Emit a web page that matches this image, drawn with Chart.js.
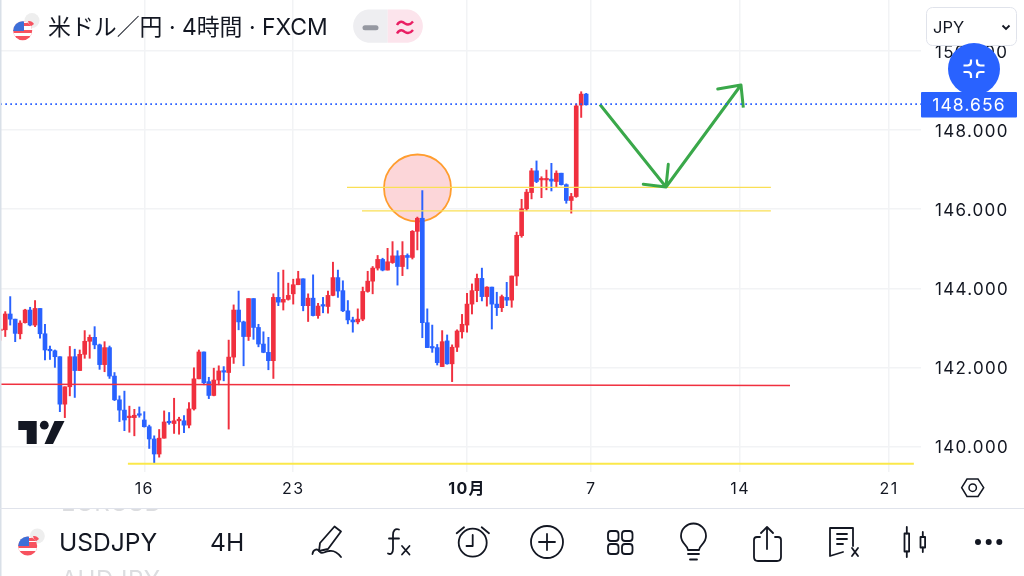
<!DOCTYPE html>
<html>
<head>
<meta charset="utf-8">
<title>USDJPY</title>
<script src="https://cdn.jsdelivr.net/npm/chart.js@4"></script>
<style>
  html, body { margin: 0; padding: 0; background: #fff; }
  #page { position: relative; width: 1024px; height: 576px; overflow: hidden; font-family: Inter, "Noto Sans CJK JP", sans-serif; color: #131722; }
  canvas { position: absolute; left: 0; top: 0; }
  svg { position: absolute; left: 0; top: 0; }
  .txt { position: absolute; white-space: nowrap; }
  #ghost { position: absolute; left: 0; top: 509px; width: 1024px; height: 67px; overflow: hidden; color: #dcdde0; font-size: 24px; line-height: 30px; letter-spacing: .5px; }
</style>
</head>
<body>
<div id="page">
  <canvas id="chart" width="1024" height="576"></canvas>

  <div id="ghost">
    <div class="txt" style="left:61px;top:-21px">EURUSD</div>
    <div class="txt" style="left:61px;top:56px">AUDJPY</div>
  </div>

  <svg width="1024" height="576" viewBox="0 0 1024 576" fill="none">
    <defs>
      <clipPath id="f1"><circle cx="22.7" cy="30.7" r="9.5"/></clipPath>
      <clipPath id="f2"><circle cx="27.7" cy="546" r="9.5"/></clipPath>
    </defs>
    <rect x="0" y="0" width="1.5" height="576" fill="#d9e0e8"/>
    <rect x="0" y="508" width="1024" height="1" fill="#e0e3eb"/>

    <!-- tv logo -->
    <path d="M18.3 421H36.7V444H26.7V430H18.3Z" fill="#131722"/>
    <circle cx="44.3" cy="425.2" r="4.4" fill="#131722"/>
    <path d="M54.5 421H64.5L53 444H44.5Z" fill="#131722"/>

    <!-- header flag -->
    <circle cx="32" cy="20.5" r="7.5" fill="#eeeeee"/>
    <path d="M28 21A6 6 0 0 1 34 24L30 27Z" fill="#f7525f"/>
    <g clip-path="url(#f1)">
      <rect x="13" y="21" width="20" height="20" fill="#f7525f"/>
      <rect x="13" y="27" width="20" height="3" fill="#fff"/>
      <rect x="13" y="33" width="20" height="3" fill="#fff"/>
      <rect x="13" y="21" width="20" height="6" fill="#fff"/>
      <rect x="24" y="23" width="10" height="3" fill="#f7525f"/>
      <rect x="13" y="21" width="11" height="10" fill="#3d6fd8"/>
    </g>

    <!-- pill -->
    <path d="M387.7 9.5H368A16.7 16.7 0 0 0 368 42.7H387.7Z" fill="#eeeef1"/>
    <path d="M387.7 9.5H408A16.7 16.7 0 0 1 408 42.7H387.7Z" fill="#fce4ec"/>
    <path d="M365 27.7H376" stroke="#9598a1" stroke-width="5" stroke-linecap="round"/>
    <path d="M397 25C400 20 403 22 405 23.5C408 25.5 411 24 413 21.5M397 33.5C400 28.5 403 30.5 405 32C408 34 411 32.5 413 30" stroke="#e91e63" stroke-width="2.4"/>

    <!-- currency box and blue button -->
    <rect x="926.5" y="7.5" width="90" height="38" rx="6" fill="#fff" stroke="#e0e3eb"/>
    <path d="M1002.5 25.5L1006 29L1009.5 25.5" stroke="#131722" stroke-width="1.8"/>
    <circle cx="974" cy="69" r="26" fill="#2962ff"/>
    <g stroke="#fff" stroke-width="2.2">
      <path d="M963.5 65.5H967.5Q971 65.5 971 62V59.5"/>
      <path d="M984.5 65.5H980.5Q977 65.5 977 62V59.5"/>
      <path d="M963.5 72H967.5Q971 72 971 75.5V78"/>
      <path d="M984.5 72H980.5Q977 72 977 75.5V78"/>
    </g>
    <rect x="921" y="92" width="96" height="25.5" rx="1" fill="#2962ff"/>

    <!-- hexagon settings -->
    <path d="M961.7 487.7L967 479H978L983.7 487.7L978 496.5H967Z" stroke="#131722" stroke-width="1.5"/>
    <circle cx="972.7" cy="487.7" r="3.7" stroke="#131722" stroke-width="1.5"/>

    <!-- toolbar flag -->
    <circle cx="37.3" cy="536" r="7.5" fill="#eeeeee"/>
    <path d="M33 536A6 6 0 0 1 39 539L35 542Z" fill="#f7525f"/>
    <g clip-path="url(#f2)">
      <rect x="18" y="536" width="20" height="20" fill="#f7525f"/>
      <rect x="18" y="536" width="20" height="6" fill="#fff"/>
      <rect x="29" y="538" width="10" height="3" fill="#f7525f"/>
      <rect x="18" y="548" width="20" height="3" fill="#fff"/>
      <rect x="18" y="536" width="11" height="10" fill="#3d6fd8"/>
    </g>

    <!-- toolbar icons -->
    <g stroke="#131722" stroke-width="1.8" stroke-linecap="round" stroke-linejoin="round">
      <path d="M334.5 526.5L341 531.5L328 549L319 551L320 543Z"/>
      <path d="M312.5 554C313 549 318 548 320 552C322 555 325 551 329 551C334 550 338 553 341 557"/>
      <path d="M399 529.5C395 528 393 531 393 535V549C393 553 391 555 388 553.5"/>
      <path d="M389 538.5H399"/>
      <path d="M402 546L409.5 554.5M409.5 546L402 554.5"/>
      <circle cx="472.7" cy="542.7" r="14"/>
      <path d="M472.7 535V546H466.5"/>
      <path d="M456.7 533.3L464 527.3M481.7 527.3L489 533.3"/>
      <circle cx="547" cy="542" r="16"/>
      <path d="M539 542H555M547 534V550"/>
      <rect x="608" y="531" width="10.5" height="10" rx="3"/>
      <rect x="622" y="531" width="10.5" height="10" rx="3"/>
      <rect x="608" y="544" width="10.5" height="10" rx="3"/>
      <rect x="622" y="544" width="10.5" height="10" rx="3"/>
      <path d="M688 550C688 545 681 544 681 536A12.5 12.5 0 0 1 706 536C706 544 699 545 699 550Z"/>
      <path d="M688 554H699M690 559.5H697"/>
      <path d="M760 537H757Q754 537 754 540V557Q754 561 758 561H777Q781 561 781 557V540Q781 537 778 537H775"/>
      <path d="M767 549V527M761 533L767 527L773 533"/>
      <path d="M853 546V528H830V556L843 552"/>
      <path d="M837 534H847M837 539H847M837 544H843"/>
      <path d="M852 548L858 556M858 548L852 556"/>
      <rect x="904.5" y="533.5" width="4.6" height="18"/>
      <path d="M906.8 527V533.5M906.8 551.5V557"/>
      <rect x="920.5" y="537" width="4.6" height="10.5"/>
      <path d="M922.8 532V537M922.8 547.5V552"/>
    </g>
    <circle cx="978" cy="542" r="3" fill="#131722"/>
    <circle cx="988.7" cy="542" r="3" fill="#131722"/>
    <circle cx="999.3" cy="542" r="3" fill="#131722"/>
  </svg>

  <div class="txt" style="left:48px;top:12px;font-size:22.9px;line-height:30px">米ドル／円 · 4時間 · FXCM</div>
  <div class="txt" style="left:933px;top:15px;font-size:16.5px;line-height:24px">JPY</div>
  <div class="txt" id="priceTag" style="left:921px;width:96px;top:92px;text-align:center;font-size:17.5px;line-height:25px;color:#fff;letter-spacing:1.1px"></div>
  <div class="txt" style="left:59px;top:527px;font-size:24.6px;line-height:30px">USDJPY</div>
  <div class="txt" style="left:210px;top:527px;font-size:24.6px;line-height:30px">4H</div>
</div>

<script>
// candles (red = up, blue = down)
const openValues = [142.93,142.95,143.35,143.22,142.85,143.13,143.45,143.07,143.49,142.85,142.44,142.42,142.27,141.07,141.51,142.27,141.92,142.33,142.66,142.76,142.57,142.07,142.50,141.78,141.18,140.92,140.73,140.73,140.81,140.67,140.50,140.19,139.81,140.21,140.63,140.58,140.65,140.65,140.54,140.95,141.71,142.39,141.64,141.29,141.68,141.91,141.87,142.26,143.45,143.15,142.78,143.74,143.01,142.59,142.38,142.17,143.77,143.65,143.72,143.86,144.09,144.24,143.56,143.75,143.31,143.57,143.54,143.82,144.27,143.94,143.43,143.20,143.15,143.22,143.92,144.18,144.51,144.73,144.46,144.65,144.82,144.55,144.83,144.78,145.44,145.77,143.13,142.51,142.50,142.02,142.67,142.09,142.51,142.90,143.07,143.60,143.94,144.25,143.79,144.03,143.60,143.51,143.77,143.70,144.31,145.33,146.01,146.42,146.97,146.74,146.74,146.76,146.70,146.91,146.62,146.22,146.32,148.63,148.91];
const highValues = [142.95,143.41,143.79,143.22,143.18,143.47,143.52,143.69,143.49,143.09,142.54,142.44,142.27,141.51,142.53,142.46,142.44,142.93,142.82,143.03,142.59,142.65,142.54,141.87,141.28,141.40,141.02,140.94,141.00,140.88,140.54,140.27,140.43,140.90,140.86,141.22,140.74,140.78,141.11,141.99,142.44,142.39,141.75,141.98,142.04,142.02,142.69,143.58,143.93,143.17,143.74,143.74,143.09,142.90,142.76,143.86,144.40,144.46,144.13,144.23,144.43,144.24,143.86,144.34,143.62,143.77,143.93,144.66,144.46,144.19,143.69,143.27,143.48,144.03,144.43,144.55,144.83,144.76,145.01,145.18,144.95,145.18,144.87,145.46,145.80,146.47,143.48,143.07,142.58,142.93,142.82,142.57,142.95,143.34,143.87,144.11,144.36,144.51,144.04,144.03,143.90,143.83,144.15,144.31,145.42,146.25,146.50,147.03,147.22,146.82,146.99,147.16,146.97,146.91,146.64,146.40,148.66,148.97,148.93];
const lowValues = [142.68,142.78,143.07,142.65,142.72,143.12,143.05,143.03,142.74,142.19,142.20,142.00,140.88,140.73,141.28,141.24,141.92,142.23,142.23,142.47,141.95,141.89,141.72,141.16,140.63,140.40,140.36,140.27,140.74,140.49,139.95,139.57,139.73,140.21,140.56,140.33,140.31,140.35,140.47,140.92,141.71,141.56,141.21,141.28,141.56,141.66,140.44,142.10,142.95,142.04,142.68,142.71,142.52,142.37,141.94,141.72,143.56,143.45,143.70,143.60,144.09,143.43,143.16,143.30,143.24,143.38,143.37,143.81,143.77,143.41,143.10,142.89,143.10,143.18,143.90,143.86,144.46,144.44,144.46,144.63,144.08,144.32,144.49,144.74,144.97,142.75,142.50,142.38,142.06,142.02,142.08,141.64,142.40,142.74,142.89,143.35,143.66,143.68,143.55,142.97,143.31,143.41,143.56,143.52,144.07,145.29,145.96,146.26,146.67,146.29,146.49,146.46,146.57,146.61,146.15,145.90,146.30,148.32,148.63];
const closeValues = [142.95,143.35,143.22,142.86,143.12,143.45,143.07,143.49,142.85,142.44,142.42,142.27,141.07,141.51,142.27,141.92,142.33,142.66,142.76,142.57,142.07,142.50,141.78,141.18,140.92,140.67,140.74,140.79,140.79,140.50,140.19,139.81,140.21,140.62,140.60,140.65,140.69,140.54,140.95,141.71,142.39,141.61,141.29,141.68,141.91,141.88,142.26,143.45,143.15,142.78,143.74,143.01,142.59,142.38,142.17,143.77,143.65,143.72,143.82,144.09,144.24,143.56,143.75,143.31,143.55,143.55,143.82,144.27,143.93,143.43,143.20,143.15,143.22,143.92,144.18,144.51,144.73,144.46,144.67,144.82,144.55,144.83,144.78,145.44,145.77,143.13,142.50,142.49,142.12,142.65,142.09,142.51,142.92,143.09,143.60,143.94,144.25,143.79,144.03,143.60,143.51,143.79,143.70,144.31,145.34,146.01,146.43,146.97,146.70,146.76,146.76,146.71,146.91,146.62,146.22,146.32,148.61,148.91,148.64];

const yTickValues = [140, 142, 144, 146, 148, 150];
const xTickPositions = [29, 59, 94, 119, 149, 179];
const xTickLabels = ["16", "23", "10月", "7", "14", "21"];
const lastPrice = 148.656;

// drawings on the chart
const priceLineX = [-1, 186];
const redLineX = [-1, 159.05];
const redLineY = [141.575, 141.54];
const upperLevelX = [69.83, 155.2];
const upperLevelY = 146.553;
const lowerLevelX = [72.85, 155.2];
const lowerLevelY = 145.955;
const floorLineX = [25.7, 184];
const floorLineY = 139.565;
const circleX = 84.03;
const circleY = 146.536;
const arrowX = [120.78, 134.08, 129.5, 134.08, 134.54, 134.08, 149.18, 144.5, 149.18, 149.65];
const arrowY = [148.647, 146.561, 146.63, 146.561, 147.135, 146.561, 149.14, 149.04, 149.14, 148.57];

const RED = "#f0303f";
const BLUE = "#2962ff";

function candleColor(i) {
  return closeValues[i] >= openValues[i] ? RED : BLUE;
}

function flatLine(xs, y) {
  return xs.map(x => ({ x: x, y: y }));
}

// the app spaces its axis numbers out a bit
const spacedLabels = {
  id: "spacedLabels",
  beforeDraw: chart => { chart.ctx.letterSpacing = "1.3px"; }
};

function renderChart() {
  const wicks = highValues.map((h, i) => ({ x: i, y: [lowValues[i], h] }));
  const bodies = openValues.map((o, i) => ({ x: i, y: [o, closeValues[i]] }));
  const colors = openValues.map((o, i) => candleColor(i));

  new Chart(document.getElementById("chart"), {
    type: "bar",
    plugins: [spacedLabels],
    data: {
      datasets: [
        { type: "line", data: flatLine(priceLineX, lastPrice), borderColor: "#1f56ff", borderWidth: 1.6, borderDash: [1.6, 3.4], pointRadius: 0, order: 1 },
        { type: "line", data: arrowX.map((x, i) => ({ x: x, y: arrowY[i] })), borderColor: "#3aa84a", borderWidth: 3, pointRadius: 0, tension: 0, borderJoinStyle: "round", order: 2 },
        { type: "line", data: redLineX.map((x, i) => ({ x: x, y: redLineY[i] })), borderColor: "#f0303f", borderWidth: 1.5, pointRadius: 0, order: 3 },
        { type: "line", data: flatLine(upperLevelX, upperLevelY), borderColor: "#fadf55", borderWidth: 1.3, pointRadius: 0, order: 3 },
        { type: "line", data: flatLine(lowerLevelX, lowerLevelY), borderColor: "#fadf55", borderWidth: 1.3, pointRadius: 0, order: 3 },
        { type: "line", data: flatLine(floorLineX, floorLineY), borderColor: "#fbe84a", borderWidth: 2, pointRadius: 0, order: 3 },
        { type: "bar", data: bodies, backgroundColor: colors, barThickness: 4, minBarLength: 1.5, grouped: false, order: 4 },
        { type: "bar", data: wicks, backgroundColor: colors, barThickness: 1.3, grouped: false, order: 5 },
        { type: "scatter", data: [{ x: circleX, y: circleY }], pointRadius: 33.5, pointBackgroundColor: "#fcd6d9", pointBorderColor: "#ff9d2e", pointBorderWidth: 1.8, order: 6 }
      ]
    },
    options: {
      responsive: false,
      animation: false,
      layout: { autoPadding: false, padding: { left: 0, top: 0, right: 0, bottom: 68 } },
      plugins: { legend: { display: false }, tooltip: { enabled: false } },
      scales: {
        x: {
          type: "linear",
          offset: false,
          min: -0.06,
          max: 185.44,
          afterBuildTicks: scale => { scale.ticks = xTickPositions.map(v => ({ value: v })); },
          afterFit: scale => { scale.height = 36; scale.paddingLeft = 0; scale.paddingRight = 0; },
          grid: { offset: false, color: "#f2f3f5", lineWidth: 1.5, drawTicks: false },
          border: { display: false },
          ticks: {
            autoSkip: false,
            maxRotation: 0,
            padding: 8,
            color: "#131722",
            font: ctx => ({ family: 'Inter, "Noto Sans CJK JP"', size: 16, weight: ctx.tick && ctx.tick.value === 94 ? "bold" : "normal" }),
            callback: value => xTickLabels[xTickPositions.indexOf(value)]
          }
        },
        y: {
          position: "right",
          min: 139.355,
          max: 151.289,
          afterBuildTicks: scale => { scale.ticks = yTickValues.map(v => ({ value: v })); },
          afterFit: scale => { scale.width = 103; scale.paddingTop = 0; scale.paddingBottom = 0; },
          grid: { color: "#f2f3f5", lineWidth: 1.5, drawTicks: false },
          border: { display: false },
          ticks: {
            padding: 14,
            labelOffset: 1.5,
            color: "#131722",
            font: { family: "Inter", size: 17 },
            callback: value => value.toFixed(3)
          }
        }
      }
    }
  });

  document.getElementById("priceTag").innerText = lastPrice.toFixed(3);
}

renderChart();
</script>
</body>
</html>
